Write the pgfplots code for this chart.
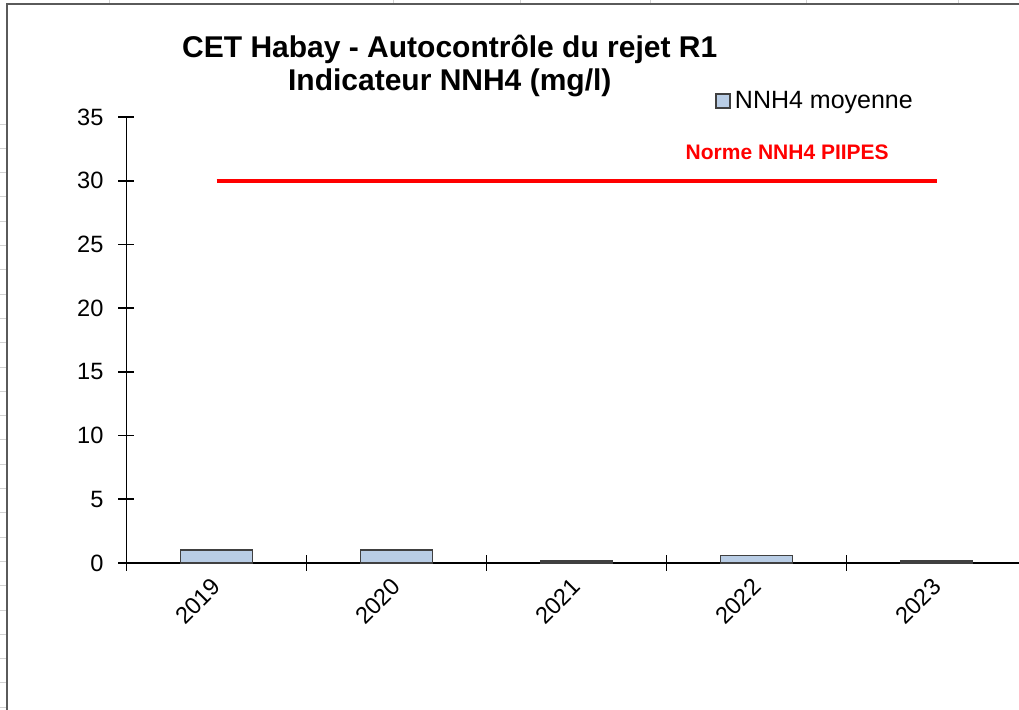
\documentclass[border=0pt]{standalone}
\usepackage{fontspec}
\setmainfont{Liberation Sans}
\usepackage{pgfplots}
\pgfplotsset{compat=1.18}

\definecolor{barfill}{HTML}{B9CDE5}
\definecolor{baredge}{HTML}{404040}
\definecolor{framegray}{HTML}{5A5A5A}

\pgfplotsset{
  squarelegend/.style={
    legend image code/.code={\draw[##1] (0pt,-3.5pt) rectangle (7pt,3.5pt);}},
}

\begin{document}
\begin{tikzpicture}
% page = spreadsheet window, axis corner sits at the origin
\clip (-63.25pt,-73.5pt) rectangle (446.25pt,281.5pt);
\fill[white] (-63.25pt,-73.5pt) rectangle (446.25pt,281.5pt);
% spreadsheet cells around the chart frame
\foreach \k in {0,...,24} \draw[gray!35, line width=0.4pt] (-63.25pt,{219.5pt-12.15pt*\k}) -- (-60.25pt,{219.5pt-12.15pt*\k});
\foreach \xx in {-8.75,133.25,196.75,261.75,339.75,415.75} \draw[gray!35, line width=0.4pt] (\xx pt,279.5pt) -- (\xx pt,281.5pt);
\draw[framegray, line width=1pt] (-59.75pt,-80pt) -- (-59.75pt,279.5pt) -- (460pt,279.5pt);

\begin{axis}[
  anchor=south west,
  scale only axis, width=446.5pt, height=223pt,
  xmin=-0.5, xmax=4.46, ymin=0, ymax=35,
  axis lines=left,
  axis line style={-, black, line width=0.8pt},
  clip=false,
  /pgf/number format/assume math mode=true,
  tick align=center,
  tick style={black, line width=0.8pt},
  major tick length=8pt, minor tick length=8pt,
  ytick={0,5,...,35},
  xtick={0,1,2,3,4},
  xticklabels={2019,2020,2021,2022,2023},
  major x tick style={draw=none},
  minor xtick={-0.5,0.5,1.5,2.5,3.5},
  ticklabel style={font=\fontsize{11.8}{13}\selectfont},
  yticklabel style={xshift=-4pt},
  xticklabel style={xshift=-3pt, yshift=2pt, rotate=45, anchor=north east},
  legend style={draw=none, fill=none, at={(0.659,1.036)}, anchor=west,
    font=\fontsize{12.5}{14}\selectfont, inner sep=0pt},
  legend cell align=left,
]
\addplot[ybar, bar width=36pt, fill=barfill, draw=baredge, line width=0.8pt, squarelegend]
  coordinates {(0,1.0) (1,1.0) (2,0.15) (3,0.6) (4,0.15)};
\addlegendentry{NNH4 moyenne}
\addplot[red, line width=2pt, forget plot] coordinates {(0,30) (4,30)};
\node[text=red, font=\bfseries\fontsize{10.5}{12}\selectfont] at (axis cs:3.17,32.2) {Norme NNH4 PIIPES};
\node[font=\bfseries\fontsize{15}{16.5}\selectfont, align=center] at (rel axis cs:0.362,1.114)
  {CET Habay - Autocontrôle du rejet R1\\Indicateur NNH4 (mg/l)};
\end{axis}
\end{tikzpicture}
\end{document}
